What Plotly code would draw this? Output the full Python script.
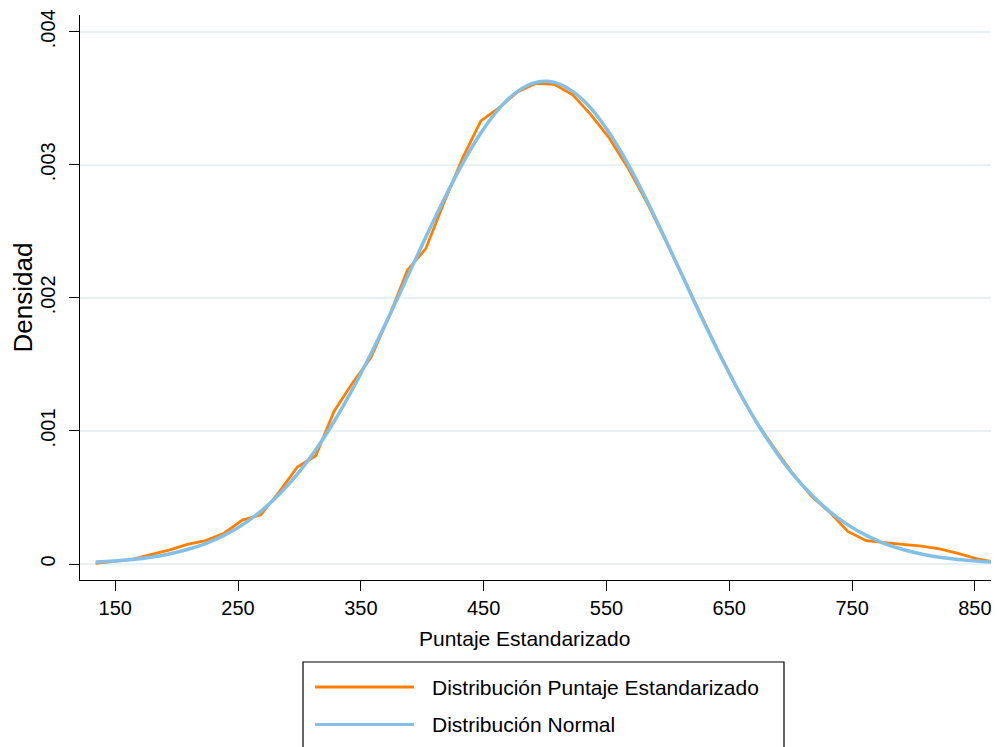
import plotly.graph_objects as go

# ---------------- data ----------------
score_grid = [134.0, 148.9, 163.9, 178.8, 193.8, 208.7, 223.6, 238.6, 253.5, 268.4,
              283.4, 298.3, 313.3, 328.2, 343.2, 358.1, 373.0, 388.0, 402.9, 417.9,
              432.8, 447.7, 462.7, 477.6, 492.6, 507.5, 522.4, 537.4, 552.3, 567.3,
              582.2, 597.1, 612.1, 627.0, 642.0, 656.9, 671.8, 686.8, 701.7, 716.7,
              731.6, 746.5, 761.5, 776.4, 791.4, 806.3, 821.2, 836.2, 851.1, 866.0]

density_scores = [0.000005, 0.000018, 0.000035, 0.00007, 0.000105, 0.000148, 0.000176, 0.000231, 0.000330, 0.000369,
                  0.00054, 0.000729, 0.000814, 0.001148, 0.00136, 0.00155, 0.00186, 0.00221, 0.00237, 0.00272,
                  0.00305, 0.00333, 0.00343, 0.003547, 0.003612, 0.003605, 0.003527, 0.003375, 0.00320, 0.00298,
                  0.00273, 0.00245, 0.00216, 0.00186, 0.00158, 0.00131, 0.00107, 0.00087, 0.00068, 0.00051,
                  0.00039, 0.000245, 0.000175, 0.00016, 0.00015, 0.000135, 0.000113, 0.00008, 0.00004, 0.000015]

density_normal = [0.0000143, 0.0000222, 0.0000341, 0.0000510, 0.0000753, 0.000109, 0.000154, 0.000215, 0.000294, 0.000395,
                  0.000522, 0.000675, 0.000859, 0.001071, 0.001313, 0.001578, 0.001862, 0.002160, 0.002457, 0.002745,
                  0.003009, 0.003239, 0.003424, 0.003552, 0.003619, 0.003619, 0.003552, 0.003424, 0.003239, 0.003009,
                  0.002745, 0.002457, 0.002160, 0.001862, 0.001578, 0.001313, 0.001071, 0.000859, 0.000675, 0.000522,
                  0.000395, 0.000294, 0.000215, 0.000154, 0.000109, 0.0000753, 0.0000510, 0.0000341, 0.0000222, 0.0000143]

x_ticks = [150, 250, 350, 450, 550, 650, 750, 850]
y_ticks = [0, 0.001, 0.002, 0.003, 0.004]
y_tick_labels = ["0", ".001", ".002", ".003", ".004"]

series_names = ["Distribución Puntaje Estandarizado", "Distribución Normal"]
x_title = "Puntaje Estandarizado"
y_title = "Densidad"

# ---------------- style ----------------
FONT = "Liberation Sans, Arial, Helvetica, sans-serif"
ORANGE = "rgb(255,127,0)"
LTBLUE = "rgb(130,192,233)"
GRID = "rgb(232,240,243)"

OFF = 8  # page body margin of the html page
W, H = 999 - OFF, 747 - OFF
ML, MR, MT, MB = 80 - OFF, 0, 15 - OFF, 167
PW, PH = W - ML - MR, H - MT - MB


def px(xp):  # page pixel -> paper x
    return (xp - OFF - ML) / PW


def py(yp):  # page pixel -> paper y
    return (H - MB - (yp - OFF)) / PH


fig = go.Figure()
fig.add_trace(go.Scatter(x=score_grid, y=density_scores, mode="lines",
                         line=dict(color=ORANGE, width=2.8), name=series_names[0],
                         showlegend=False))
fig.add_trace(go.Scatter(x=score_grid, y=density_normal, mode="lines",
                         line=dict(color=LTBLUE, width=3.5, shape="spline"),
                         name=series_names[1], showlegend=False))

# legend drawn by hand (long sample lines as in the reference)
shapes = [
    dict(type="rect", xref="paper", yref="paper",
         x0=px(303), x1=px(784), y0=py(760), y1=py(662),
         line=dict(color="black", width=1.2), fillcolor="white", layer="above"),
    dict(type="line", xref="paper", yref="paper",
         x0=px(315), x1=px(414), y0=py(687), y1=py(687),
         line=dict(color=ORANGE, width=3)),
    dict(type="line", xref="paper", yref="paper",
         x0=px(315), x1=px(414), y0=py(724.5), y1=py(724.5),
         line=dict(color=LTBLUE, width=3)),
]
annotations = [
    dict(xref="paper", yref="paper", x=px(430), y=py(687), text=series_names[0],
         showarrow=False, xanchor="left", yanchor="middle",
         font=dict(family=FONT, size=21, color="black")),
    dict(xref="paper", yref="paper", x=px(430), y=py(724.5), text=series_names[1],
         showarrow=False, xanchor="left", yanchor="middle",
         font=dict(family=FONT, size=21, color="black")),
    # x-axis title (centred as in the reference, slightly left of plot centre)
    dict(xref="paper", yref="paper", x=px(524), y=py(638), text=x_title,
         showarrow=False, xanchor="center", yanchor="middle",
         font=dict(family=FONT, size=21, color="black")),
]

fig.update_layout(
    width=W, height=H,
    margin=dict(l=ML, r=MR, t=MT, b=MB, pad=0),
    paper_bgcolor="white", plot_bgcolor="white",
    font=dict(family=FONT, color="black"),
    shapes=shapes, annotations=annotations,
    xaxis=dict(range=[121.3, 869.6], tickvals=x_ticks, ticks="outside", ticklen=10,
               tickwidth=1.2, tickcolor="black", showline=True, linecolor="black",
               linewidth=1.2, showgrid=False, zeroline=False,
               tickfont=dict(size=20, family=FONT, color="black")),
    yaxis=dict(range=[-0.0001202, 0.0041256], tickvals=y_ticks, ticktext=y_tick_labels,
               tickangle=-90, ticks="outside", ticklen=10, tickwidth=1.2,
               ticklabelstandoff=6,
               tickcolor="black", showline=True, linecolor="black", linewidth=1.2,
               showgrid=True, gridcolor=GRID, gridwidth=1.5, zeroline=False,
               tickfont=dict(size=20, family=FONT, color="black"),
               title=dict(text=y_title, standoff=0,
                          font=dict(size=26, family=FONT, color="black"))),
)

fig.write_html("out.html")
